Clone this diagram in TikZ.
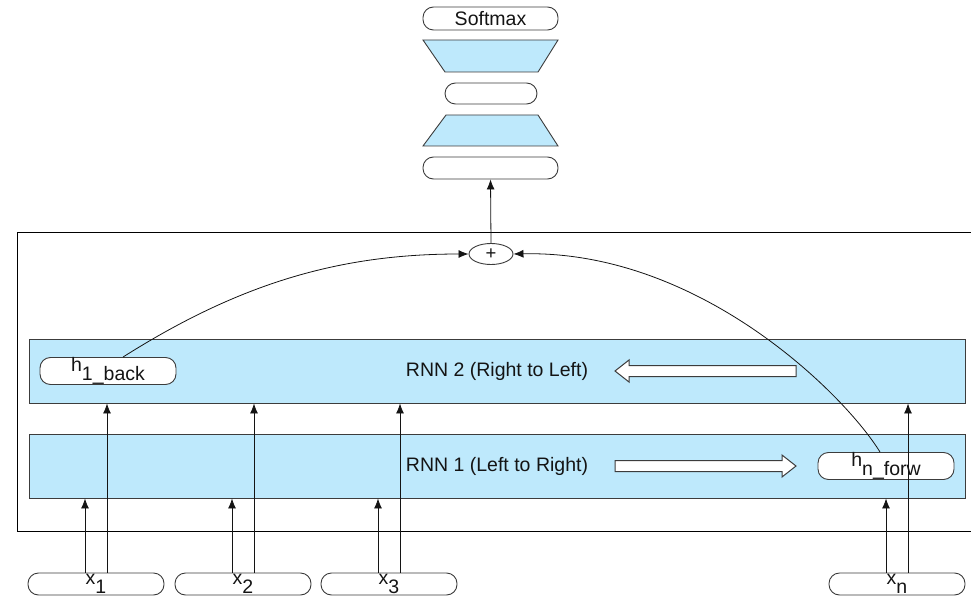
\documentclass[tikz,border=0pt]{standalone}
\usepackage{fontspec}
\setmainfont{Liberation Sans}
\usetikzlibrary{arrows.meta,calc,shapes.geometric}
\definecolor{rnnblue}{RGB}{190,233,252}
\definecolor{edge}{RGB}{60,60,60}
\definecolor{ink}{RGB}{20,20,20}
% subscript set at full size, dropped below the baseline
\newcommand{\lowsub}[1]{\raisebox{-9pt}{#1}}
\begin{document}
\begin{tikzpicture}[x=1pt,y=-1pt,
  every node/.style={font=\fontsize{19.5}{22}\selectfont, text=ink},
  pill/.style={draw=edge, line width=0.9pt, fill=white, rounded corners=10.5pt,
    minimum width=136pt, minimum height=22pt, inner sep=0pt},
  layer/.style={draw=edge, line width=0.9pt, fill=rnnblue,
    minimum width=936pt, minimum height=64pt, inner sep=0pt},
  dense/.style={draw=edge, line width=0.9pt, fill=rnnblue},
  hollow/.style={draw=edge, line width=1pt, fill=white},
  arr/.style={draw=ink, line width=0.8pt, -{Latex[length=10pt,width=8pt]}},
]
\useasboundingbox (0,0) rectangle (971,596);

% enclosing frame of the bidirectional encoder
\draw[line width=0.8pt] (971,232) -- (17,232) -- (17,531) -- (971,531);

% recurrent layers
\node[layer] (rnn2) at (497,371) {RNN 2 (Right to Left)};
\node[layer] (rnn1) at (497,466) {RNN 1 (Left to Right)};

% direction arrows
\draw[hollow] (615,371) -- (629,360) -- (629,365.5) -- (796,365.5)
  -- (796,376.5) -- (629,376.5) -- (629,382) -- cycle;
\draw[hollow] (796,466) -- (782,455) -- (782,460.5) -- (615,460.5)
  -- (615,471.5) -- (782,471.5) -- (782,477) -- cycle;

% hidden states
\node[pill] (hb) at (108,371) {h\lowsub{1\_back}};
\node[pill, minimum height=21pt] (hf) at (886,466) {h\lowsub{n\_forw}};

% inputs
\node[pill] (x1) at (96,584) {x\lowsub{1}};
\node[pill] (x2) at (243,584) {x\lowsub{2}};
\node[pill] (x3) at (389,584) {x\lowsub{3}};
\node[pill] (xn) at (897,584) {x\lowsub{n}};

% each input feeds both layers
\foreach \n in {x1,x2,x3,xn}{
  \draw[arr] ([xshift=-11pt]\n.north) -- ([xshift=-11pt]\n.north |- rnn1.south);
  \draw[arr] ([xshift=11pt]\n.north) -- ([xshift=11pt]\n.north |- rnn2.south);
}

% merge of the two final states
\node[ellipse, draw=edge, line width=0.9pt, fill=white, minimum width=44pt,
  minimum height=21pt, inner sep=0pt, font=\fontsize{18.5}{20}\selectfont] (plus) at (491,254) {+};
\draw[arr] ([xshift=15pt]hb.north) .. controls (240,283) and (340,254) .. (plus.west);
\draw[arr] ([xshift=-6pt]hf.north) .. controls (845,395) and (700,250) .. (plus.east);

% classifier head
\node[pill, minimum width=135pt] (fc) at (490.5,168) {};
\draw[dense] (446,115) -- (538,115) -- (558,146) -- (423,146) -- cycle;
\node[pill, minimum width=92pt, minimum height=21pt] (mid) at (491,93.5) {};
\draw[dense] (423,40) -- (558,40) -- (538,72) -- (445,72) -- cycle;
\node[pill, minimum width=135pt, minimum height=23pt] (sm) at (490.5,18.5) {Softmax};
\draw[arr] (plus.north) -- (fc.south);
\end{tikzpicture}
\end{document}
